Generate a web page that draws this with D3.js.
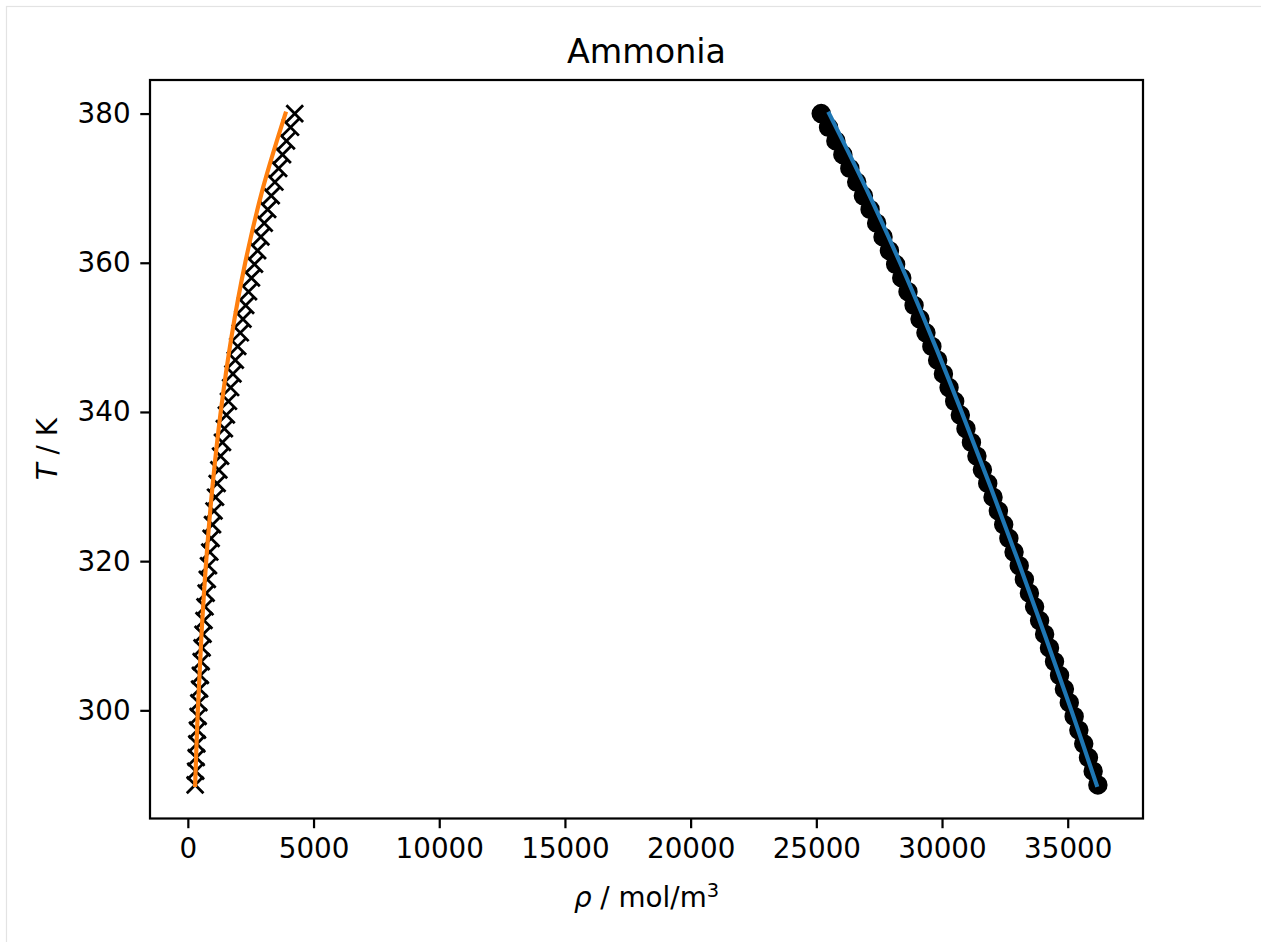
<!DOCTYPE html>
<html>
<head>
<meta charset="utf-8">
<script src="https://cdn.jsdelivr.net/npm/d3@7"></script>
<style>
  html, body { margin: 0; padding: 0; background: #fff; }
  svg { display: block; }
  text { font-family: "DejaVu Sans", sans-serif; fill: #000; }
</style>
</head>
<body>
<svg id="chart" width="1261" height="942"></svg>
<script>
// Saturation temperatures (K) of the sampled points
const tempPoints = [
  290.00, 291.84, 293.67, 295.51, 297.35, 299.18, 301.02, 302.86, 304.69, 306.53,
  308.37, 310.20, 312.04, 313.88, 315.71, 317.55, 319.39, 321.22, 323.06, 324.90,
  326.73, 328.57, 330.41, 332.24, 334.08, 335.92, 337.76, 339.59, 341.43, 343.27,
  345.10, 346.94, 348.78, 350.61, 352.45, 354.29, 356.12, 357.96, 359.80, 361.63,
  363.47, 365.31, 367.14, 368.98, 370.82, 372.65, 374.49, 376.33, 378.16, 380.00
];
// Saturated vapour density (mol/m3) at each point
const vaporDensity = [
  290, 311, 333, 357, 382, 409, 437, 467, 498, 531,
  567, 604, 643, 684, 728, 774, 822, 873, 926, 982,
  1040, 1101, 1166, 1233, 1303, 1377, 1453, 1533, 1616, 1703,
  1794, 1888, 1985, 2087, 2192, 2301, 2414, 2530, 2651, 2776,
  2906, 3039, 3176, 3318, 3463, 3613, 3767, 3924, 4086, 4252
];
// Saturated liquid density (mol/m3) at each point
const liquidDensity = [
  36199, 36012, 35825, 35637, 35443, 35256, 35062, 34868, 34675, 34475,
  34275, 34081, 33881, 33682, 33476, 33276, 33071, 32865, 32659, 32453,
  32241, 32029, 31818, 31606, 31388, 31170, 30952, 30728, 30504, 30280,
  30056, 29826, 29596, 29360, 29124, 28888, 28646, 28398, 28155, 27907,
  27653, 27399, 27138, 26872, 26606, 26333, 26055, 25777, 25486, 25194
];
// Model curves
const tempModel = [290, 300, 310, 320, 330, 340, 350, 360, 370, 380];
const liquidModel = [36150, 35145, 34100, 33030, 31925, 30780, 29590, 28330, 26975, 25510];
const vaporModel = [290, 397, 540, 730, 980, 1307, 1733, 2282, 2986, 3882];

const xTicks = [0, 5000, 10000, 15000, 20000, 25000, 30000, 35000];
const yTicks = [300, 320, 340, 360, 380];

const titleText = "Ammonia";

// ---- layout (200 dpi figure) ----
const PT = 200 / 72;
const margin = { left: 150, top: 80 };
const plotW = 993, plotH = 738.5;

const svg = d3.select("#chart");

// light frame around the figure
svg.append("rect")
  .attr("x", 6.5).attr("y", 6.5)
  .attr("width", 1400).attr("height", 1100)
  .attr("fill", "none").attr("stroke", "#e3e3e3").attr("stroke-width", 1.2);

const g = svg.append("g").attr("transform", `translate(${margin.left},${margin.top})`);

// matplotlib-style 5% padding around the data extent
function padded(values) {
  const [lo, hi] = d3.extent(values);
  const m = (hi - lo) * 0.05;
  return [lo - m, hi + m];
}
const allX = vaporDensity.concat(liquidDensity, liquidModel, vaporModel);
const allY = tempPoints.concat(tempModel);

const x = d3.scaleLinear().domain(padded(allX)).range([0, plotW]);
const y = d3.scaleLinear().domain(padded(allY)).range([plotH, 0]);

// clip to the axes box
g.append("clipPath").attr("id", "clip")
  .append("rect").attr("width", plotW).attr("height", plotH);
const plot = g.append("g").attr("clip-path", "url(#clip)");

const ms = 6 * PT;          // marker size
const mew = 1 * PT;         // marker edge width

// liquid points
plot.append("g").selectAll("circle")
  .data(tempPoints.map((t, i) => [liquidDensity[i], t]))
  .join("circle")
  .attr("cx", d => x(d[0])).attr("cy", d => y(d[1]))
  .attr("r", ms / 2)
  .attr("fill", "#000").attr("stroke", "#000").attr("stroke-width", mew);

// vapour points
const h = ms / 2;
plot.append("g").selectAll("path")
  .data(tempPoints.map((t, i) => [vaporDensity[i], t]))
  .join("path")
  .attr("transform", d => `translate(${x(d[0])},${y(d[1])})`)
  .attr("d", `M${-h},${-h}L${h},${h}M${-h},${h}L${h},${-h}`)
  .attr("fill", "none").attr("stroke", "#000").attr("stroke-width", mew);

const line = d3.line()
  .x(d => x(d[0])).y(d => y(d[1]))
  .curve(d3.curveCatmullRom.alpha(0.5));

plot.append("path")
  .datum(tempModel.map((t, i) => [liquidModel[i], t]))
  .attr("d", line)
  .attr("fill", "none").attr("stroke", "#1f77b4")
  .attr("stroke-width", 1.5 * PT).attr("stroke-linecap", "square");

plot.append("path")
  .datum(tempModel.map((t, i) => [vaporModel[i], t]))
  .attr("d", line)
  .attr("fill", "none").attr("stroke", "#ff7f0e")
  .attr("stroke-width", 1.5 * PT).attr("stroke-linecap", "square");

// axes
const fontPx = 10 * PT;
const tickLen = 3.5 * PT;
const axisW = 0.8 * PT;

const xAxis = g.append("g").attr("transform", `translate(0,${plotH})`)
  .call(d3.axisBottom(x).tickValues(xTicks).tickFormat(d3.format("d"))
    .tickSize(tickLen).tickPadding(3.5 * PT));
const yAxis = g.append("g")
  .call(d3.axisLeft(y).tickValues(yTicks).tickFormat(d3.format("d"))
    .tickSize(tickLen).tickPadding(3.5 * PT));

[xAxis, yAxis].forEach(a => {
  a.select(".domain").remove();
  a.selectAll(".tick line").attr("stroke", "#000").attr("stroke-width", axisW);
  a.selectAll(".tick text")
    .attr("font-family", "DejaVu Sans").attr("font-size", fontPx).attr("fill", "#000");
});

// axes frame
g.append("rect")
  .attr("width", plotW).attr("height", plotH)
  .attr("fill", "none").attr("stroke", "#000").attr("stroke-width", axisW);

// title
g.append("text")
  .attr("x", plotW / 2).attr("y", -6 * PT)
  .attr("text-anchor", "middle")
  .attr("font-size", 12 * PT)
  .text(titleText);

// x label: rho / mol/m^3
const xl = g.append("text")
  .attr("x", plotW / 2).attr("y", plotH + 88)
  .attr("text-anchor", "middle")
  .attr("font-size", fontPx);
xl.append("tspan").attr("font-style", "italic").text("ρ");
xl.append("tspan").text(" / mol/m");
xl.append("tspan").attr("font-size", fontPx * 0.7).attr("dy", -fontPx * 0.36).text("3");

// y label: T / K
const yl = g.append("text")
  .attr("transform", `translate(${57 - margin.left},${plotH / 2}) rotate(-90)`)
  .attr("text-anchor", "middle")
  .attr("font-size", fontPx);
yl.append("tspan").attr("font-style", "italic").text("T");
yl.append("tspan").text(" / K");
</script>
</body>
</html>
